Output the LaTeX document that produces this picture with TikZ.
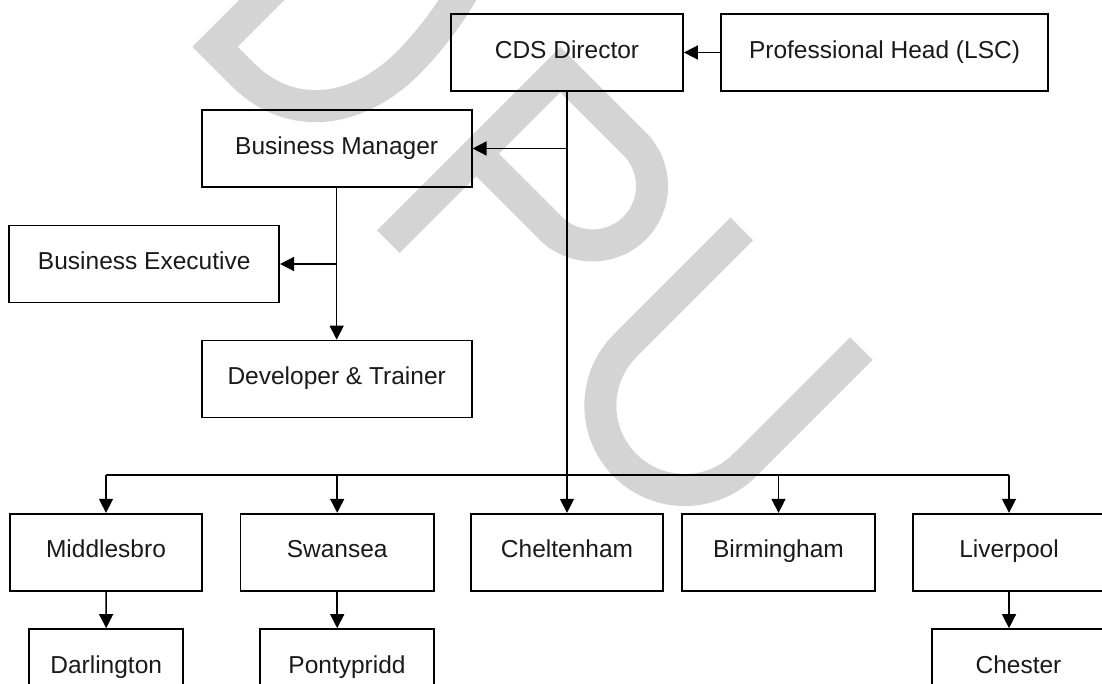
\documentclass[tikz,border=0pt]{standalone}
\usepackage{fontspec}
\setmainfont{Liberation Sans}
\usetikzlibrary{arrows.meta}
\definecolor{wmgray}{RGB}{212,212,212}
\definecolor{ink}{RGB}{26,26,26}
\begin{document}
\begin{tikzpicture}[x=1pt,y=-1pt,
  box/.style={draw=black,line width=1.7pt,inner sep=0pt,minimum height=77pt,
    text=ink,font=\fontsize{24.5}{29}\selectfont,text height=17.5pt,text depth=6pt},
  arr/.style={line width=1.5pt,-{Triangle[length=14pt,width=14pt]}},
  wm/.style={draw=wmgray,line width=32pt,line cap=butt,line join=miter}]
\useasboundingbox (0,0) rectangle (1102,684);
\clip (0,0) rectangle (1102,684);
\fill[white] (0,0) rectangle (1102,684);

% background lettering "DPU", set along a 45 degree baseline
\begin{scope}[x={(0.7071pt,-0.7071pt)},y={(0.7071pt,0.7071pt)}]
  \draw[wm] (185,440) -- (185,119) -- (225,119)
    .. controls (290,119) and (335,170) .. (333,250)
    .. controls (331,330) and (300,440) .. (225,440) -- cycle;
  \draw[wm] (445.5,103.7) -- (445.5,347) -- (550.5,347)
    arc[start angle=90,end angle=-90,radius=59.5] -- (445.5,228);
  \draw[wm] (686.5,362.7) -- (686.5,197.5)
    arc[start angle=180,end angle=360,radius=84.5] -- (855.6,362.7);
\end{scope}

% management
\node[box,minimum width=232pt] (cds) at (567,52.5) {CDS Director};
\node[box,minimum width=327pt] (prof) at (884.5,52.5) {Professional Head (LSC)};
\node[box,minimum width=270pt] (bm) at (336.7,148.5) {Business Manager};
\node[box,minimum width=270pt] (be) at (144.2,264) {Business Executive};
\node[box,minimum width=270pt] (dev) at (336.7,379) {Developer \& Trainer};

% centres
\node[box,minimum width=192pt] (mid) at (106,552.2) {Middlesbro};
\node[box,minimum width=193.5pt] (swa) at (337.2,552.2) {Swansea};
\node[box,minimum width=192pt] (che) at (567,552.2) {Cheltenham};
\node[box,minimum width=193pt] (bir) at (778.5,552.2) {Birmingham};
\node[box,minimum width=192pt] (liv) at (1009,552.2) {Liverpool};

% satellite offices
\node[box,minimum width=154pt] (dar) at (106.2,667.5) {Darlington};
\node[box,minimum width=174pt] (pon) at (347,667.5) {Pontypridd};
\node[box,minimum width=173pt] (chs) at (1018.5,667.5) {Chester};

% reporting lines
\coordinate (bus) at (0,475);
\draw[arr] (prof.west) -- (cds.east);
\draw[arr] (cds.south) -- (che.north);
\draw[arr] (cds.south |- bm.east) -- (bm.east);
\draw[arr] (bm.south) -- (dev.north);
\draw[arr] (bm.south |- be.east) -- (be.east);
\draw[line width=1.5pt] (mid.north |- bus) -- (liv.north |- bus);
\foreach \n in {mid,swa,bir,liv}
  \draw[arr] (\n.north |- bus) -- (\n.north);
\draw[arr] (mid.south) -- (dar.north);
\draw[arr] (swa.south) -- (swa.south |- pon.north);
\draw[arr] (liv.south) -- (liv.south |- chs.north);
\end{tikzpicture}
\end{document}
